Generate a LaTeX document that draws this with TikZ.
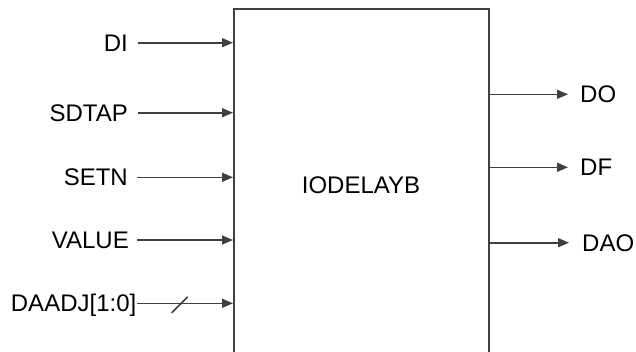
\documentclass[tikz,border=0pt]{standalone}
\usepackage{fontspec}
\setmainfont{Liberation Sans}
\usetikzlibrary{arrows.meta}
\definecolor{wire}{HTML}{404040}
\begin{document}
\begin{tikzpicture}[x=1pt,y=-1pt,
  sig/.style={font=\fontsize{24}{27}\selectfont, inner sep=0pt},
  wirearrow/.style={draw=wire, line width=1.6pt, -{Triangle[length=11pt,width=9pt]}},
  blk/.style={draw=wire, line width=1.8pt, minimum width=255pt, minimum height=360pt, anchor=north west, inner sep=0pt}]
\useasboundingbox (0,0) rectangle (636,351);
\clip (0,0) rectangle (636,351);
\node[blk] (box) at (233,8) {};
\node[sig] (core) at (361,185) {IODELAYB};
% inputs
\node[sig, anchor=base east] (di) at (128,51.5) {DI};
\node[sig, anchor=base east] (sdtap) at (128,121.3) {SDTAP};
\node[sig, anchor=base east] (setn) at (128,185.9) {SETN};
\node[sig, anchor=base east] (value) at (129,248.6) {VALUE};
\node[sig, anchor=base east] (daadj) at (136.5,311.9) {DAADJ[1:0]};
\coordinate (diS) at (137.5,42.7);
\coordinate (sdtapS) at (137.5,112.7);
\coordinate (setnS) at (137,177.3);
\coordinate (valueS) at (137,240);
\coordinate (daadjS) at (137,303.3);
\draw[wirearrow] (diS) -- (box.west |- diS);
\draw[wirearrow] (sdtapS) -- (box.west |- sdtapS);
\draw[wirearrow] (setnS) -- (box.west |- setnS);
\draw[wirearrow] (valueS) -- (box.west |- valueS);
\draw[wirearrow] (daadjS) -- (box.west |- daadjS);
\coordinate (slA) at (171.7,312.7);
\coordinate (slB) at (187.7,296.7);
\draw[draw=wire, line width=1.6pt] (slA) -- (slB);
% outputs
\node[sig, anchor=base west] (do) at (580,102.9) {DO};
\node[sig, anchor=base west] (df) at (580,175.9) {DF};
\node[sig, anchor=base west] (dao) at (582,251.3) {DAO};
\coordinate (doE) at (568,94.3);
\coordinate (dfE) at (568,167.3);
\coordinate (daoE) at (569,242.7);
\draw[wirearrow] (box.east |- doE) -- (doE);
\draw[wirearrow] (box.east |- dfE) -- (dfE);
\draw[wirearrow] (box.east |- daoE) -- (daoE);
\end{tikzpicture}
\end{document}
